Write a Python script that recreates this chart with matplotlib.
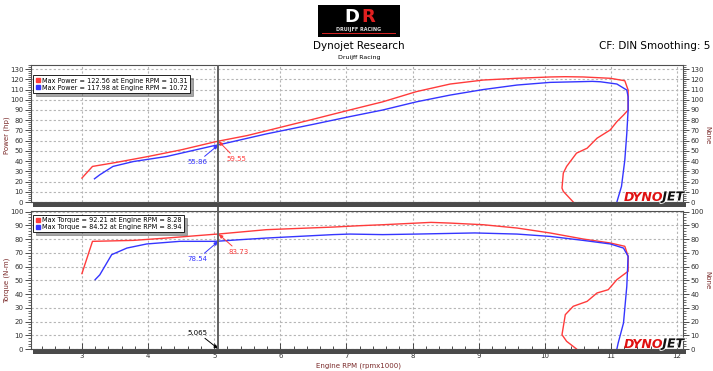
import numpy as np
import matplotlib.pyplot as plt
from matplotlib.patches import Rectangle
from matplotlib.lines import Line2D
from matplotlib.ticker import MultipleLocator
import matplotlib.patheffects as pe

# Run 1 (red) / run 2 (blue) - power
p1_rpm = [3.00, 3.16, 3.50, 4.00, 4.50, 4.99, 5.065, 5.50, 6.00, 6.50, 7.05, 7.55, 8.06, 8.57,
          9.07, 9.58, 10.08, 10.31, 10.58, 10.99, 11.21, 11.26, 11.26, 11.19, 11.09, 10.99,
          10.79, 10.64, 10.48, 10.33, 10.28, 10.26, 10.28, 10.43]
p1_hp = [23.4, 34.8, 38.5, 44.5, 51.0, 58.5, 59.55, 65.0, 73.0, 81.0, 90.0, 98.0, 108.0, 115.4,
         119.3, 121.0, 122.3, 122.56, 122.3, 121.0, 118.6, 109.5, 90.0, 85.0, 78.6, 70.5,
         62.4, 52.6, 47.8, 34.8, 28.3, 13.6, 10.4, 0.0]
p2_rpm = [3.19, 3.27, 3.47, 3.78, 4.28, 4.99, 5.065, 5.79, 6.50, 7.05, 7.55, 8.06, 8.57, 9.07,
          9.58, 10.08, 10.48, 10.72, 10.84, 11.09, 11.24, 11.26, 11.26, 11.24, 11.21, 11.16, 11.09]
p2_hp = [22.7, 26.6, 34.8, 39.6, 44.5, 55.0, 55.86, 66.6, 76.0, 83.5, 90.0, 98.0, 104.6, 110.0,
         114.4, 117.0, 117.6, 117.98, 117.6, 115.4, 109.5, 103.0, 90.0, 67.0, 41.0, 15.3, 0.0]

# torque
t1_rpm = [3.00, 3.16, 3.78, 4.28, 4.99, 5.065, 5.79, 6.80, 7.20, 7.55, 8.06, 8.28, 8.57, 9.07,
          9.58, 10.08, 10.58, 10.99, 11.21, 11.26, 11.26, 11.19, 11.09, 10.96, 10.79, 10.64,
          10.43, 10.31, 10.26, 10.33, 10.48]
t1_nm = [54.9, 78.4, 79.1, 80.8, 83.5, 83.73, 86.9, 88.8, 89.8, 90.5, 91.7, 92.21, 91.7, 90.5,
         88.1, 84.5, 80.1, 77.2, 74.8, 67.5, 56.6, 54.1, 50.5, 43.2, 40.8, 34.7,
         31.1, 25.0, 10.4, 5.6, 0.0]
t2_rpm = [3.20, 3.27, 3.45, 3.68, 3.98, 4.48, 4.99, 5.065, 5.39, 5.79, 6.80, 7.05, 7.55, 8.06,
          8.94, 9.58, 10.08, 10.58, 10.99, 11.19, 11.26, 11.24, 11.19, 11.11, 11.09]
t2_nm = [50.5, 54.0, 68.7, 73.5, 76.5, 78.4, 78.4, 78.54, 79.6, 80.8, 83.3, 83.7, 83.3, 83.7,
         84.52, 83.7, 82.0, 79.1, 76.5, 73.5, 67.5, 45.6, 18.9, 4.4, 0.0]

cursor_rpm = 5.065
power_labels = ['Max Power = 122.56 at Engine RPM = 10.31',
                'Max Power = 117.98 at Engine RPM = 10.72']
torque_labels = ['Max Torque = 92.21 at Engine RPM = 8.28',
                 'Max Torque = 84.52 at Engine RPM = 8.94']

RED = '#ff3b3b'
BLUE = '#3535ff'
LBL = '#7a2a2a'

W, H = 713, 371
fig = plt.figure(figsize=(W / 100, H / 100), dpi=100)


def fx(px):
    return px / W


def fy(py):
    return 1 - py / H


ax1 = fig.add_axes([fx(31), fy(202), fx(683) - fx(31), fy(65) - fy(202)])
ax2 = fig.add_axes([fx(31), fy(349), fx(683) - fx(31), fy(211) - fy(349)])

for ax in (ax1, ax2):
    ax.set_xlim(2.23, 12.09)
    ax.xaxis.set_major_locator(MultipleLocator(1))
    ax.xaxis.set_minor_locator(MultipleLocator(0.2))
    ax.yaxis.set_major_locator(MultipleLocator(10))
    ax.yaxis.set_minor_locator(MultipleLocator(2))
    ax.grid(True, which='major', ls=(0, (2, 2)), color='#b5b5b5', lw=0.8)
    ax.set_axisbelow(True)
    ax.tick_params(axis='y', which='both', left=True, right=True, labelright=True,
                   labelsize=5, direction='out', colors='#303030', pad=1.5)
    ax.tick_params(axis='y', which='major', length=4, width=0.6)
    ax.tick_params(axis='y', which='minor', length=2, width=0.5)
    for s in ax.spines.values():
        s.set_color('#505050')
        s.set_linewidth(0.8)
    ax.axvline(cursor_rpm, color='#606060', lw=1.4, zorder=5)

ax1.set_ylim(0, 134)
ax2.set_ylim(0, 100.5)
ax1.tick_params(axis='x', which='both', labelbottom=False, length=0)
ax2.tick_params(axis='x', which='major', direction='in', length=4, width=0.6,
                labelsize=5, pad=3, colors='#303030')
ax2.tick_params(axis='x', which='minor', direction='in', length=2.5, width=0.5)

# cursor through the gap
ax1.axvline(cursor_rpm, ymin=-10 / 137, ymax=0, color='#606060', lw=1.4, clip_on=False, zorder=5)

ax1.plot(p1_rpm, p1_hp, color=RED, lw=1)
ax1.plot(p2_rpm, p2_hp, color=BLUE, lw=1)
ax2.plot(t1_rpm, t1_nm, color=RED, lw=1)
ax2.plot(t2_rpm, t2_nm, color=BLUE, lw=1)

arw = dict(arrowstyle='-|>,head_length=0.5,head_width=0.2', lw=0.7, shrinkA=0, shrinkB=0)
ax1.annotate('55.86', xy=(cursor_rpm, 55.86), xytext=(4.75, 39), color=BLUE, fontsize=5,
             ha='center', va='center', arrowprops=dict(arw, color=BLUE))
ax1.annotate('59.55', xy=(cursor_rpm, 59.55), xytext=(5.33, 42), color=RED, fontsize=5,
             ha='center', va='center', arrowprops=dict(arw, color=RED))
ax2.annotate('78.54', xy=(cursor_rpm, 78.54), xytext=(4.75, 65.5), color=BLUE, fontsize=5,
             ha='center', va='center', arrowprops=dict(arw, color=BLUE))
ax2.annotate('83.73', xy=(cursor_rpm, 83.73), xytext=(5.37, 70.8), color=RED, fontsize=5,
             ha='center', va='center', arrowprops=dict(arw, color=RED))
ax2.annotate('5.065', xy=(cursor_rpm, 0), xytext=(4.75, 12), color='black', fontsize=5,
             ha='center', va='center', arrowprops=dict(arw, color='black'))

# legends
for ax, labels, top in ((ax1, power_labels, 0.925), (ax2, torque_labels, 0.972)):
    hs = [Line2D([], [], marker='s', ls='none', color=RED, ms=3),
          Line2D([], [], marker='s', ls='none', color=BLUE, ms=3)]
    leg = ax.legend(hs, labels, loc='upper left', bbox_to_anchor=(0.003, top),
                    borderaxespad=0, fontsize=4.7, fancybox=False, shadow=True,
                    edgecolor='black', framealpha=1, handlelength=0.8,
                    handletextpad=0.3, borderpad=0.35, labelspacing=0.15)
    leg.get_frame().set_linewidth(0.6)

# dark strips under each panel
for ytop in (203, 350):
    fig.add_artist(Rectangle((fx(33), fy(ytop + 4)), fx(686) - fx(33), 4 / H,
                             transform=fig.transFigure, color='#4a4a4a', lw=0))

# DYNOJET marks
renderer = fig.canvas.get_renderer()
for yc in (197, 344):
    jet = fig.text(fx(684), fy(yc), 'JET', color='#111111', fontsize=9, fontweight='bold',
                   style='italic', ha='right', va='center',
                   path_effects=[pe.withStroke(linewidth=1.2, foreground='white')])
    x0 = jet.get_window_extent(renderer).x0
    fig.text(x0 / fig.bbox.width + 1 / W, fy(yc), 'DYNO', color='#e01010', fontsize=9,
             fontweight='bold', style='italic', ha='right', va='center')

# axis labels
fig.text(fx(7), fy(135), 'Power (hp)', rotation=90, color=LBL, fontsize=5, ha='center', va='center')
fig.text(fx(7), fy(280), 'Torque (N-m)', rotation=90, color=LBL, fontsize=5, ha='center', va='center')
fig.text(fx(707), fy(135), 'None', rotation=270, color=LBL, fontsize=5, ha='center', va='center')
fig.text(fx(707), fy(280), 'None', rotation=270, color=LBL, fontsize=5, ha='center', va='center')
fig.text(fx(358), fy(366), 'Engine RPM (rpmx1000)', color=LBL, fontsize=5, ha='center', va='center')

# header
fig.add_artist(Rectangle((fx(318), fy(37)), fx(400) - fx(318), 32 / H,
                         transform=fig.transFigure, color='black', lw=0))
fig.text(fx(352), fy(17), 'D', color='white', fontsize=13, fontweight='bold', ha='center', va='center')
fig.text(fx(368), fy(17), 'R', color='#e02020', fontsize=13, fontweight='bold', ha='center', va='center')
fig.text(fx(359), fy(29), 'DRUIJFF RACING', color='#dddddd', fontsize=3.5, fontweight='bold',
         ha='center', va='center')
fig.add_artist(Rectangle((fx(322), fy(34)), fx(396) - fx(322), 1.2 / H,
                         transform=fig.transFigure, color='#d02020', lw=0))
fig.text(fx(359), fy(46), 'Dynojet Research', color='black', fontsize=7.5, ha='center', va='center')
fig.text(fx(359), fy(57), 'Druijff Racing', color='black', fontsize=4.5, ha='center', va='center')
fig.text(fx(710), fy(46), 'CF: DIN Smoothing: 5', color='black', fontsize=7.5, ha='right', va='center')

fig.savefig('out.png', dpi=100, facecolor='white')
